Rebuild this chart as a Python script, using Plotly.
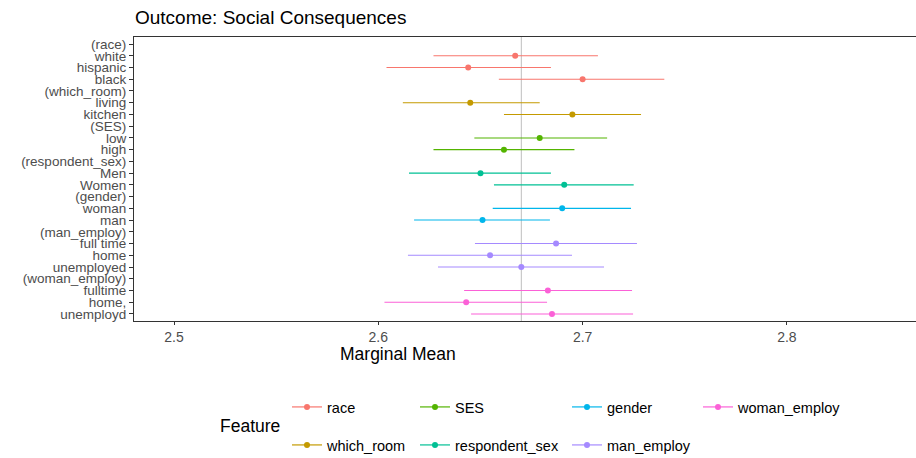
import plotly.graph_objects as go

# ---- data ----
row_labels = ["(race)", "white", "hispanic", "black",
              "(which_room)", "living", "kitchen",
              "(SES)", "low", "high",
              "(respondent_sex)", "Men", "Women",
              "(gender)", "woman", "man",
              "(man_employ)", "full time", "home", "unemployed",
              "(woman_employ)", "fulltime", "home,", "unemployd"]

features = ["race", "which_room", "SES", "respondent_sex", "gender", "man_employ", "woman_employ"]
feature_colors = ["#F8766D", "#C49A00", "#53B400", "#00C094", "#00B6EB", "#A58AFF", "#FB61D7"]

race_levels = ["white", "hispanic", "black"]
race_est = [2.667, 2.644, 2.700]
race_lo = [2.627, 2.604, 2.659]
race_hi = [2.7075, 2.6845, 2.740]

which_room_levels = ["living", "kitchen"]
which_room_est = [2.645, 2.695]
which_room_lo = [2.612, 2.6615]
which_room_hi = [2.679, 2.7286]

ses_levels = ["low", "high"]
ses_est = [2.679, 2.6615]
ses_lo = [2.647, 2.627]
ses_hi = [2.712, 2.696]

respondent_sex_levels = ["Men", "Women"]
respondent_sex_est = [2.650, 2.691]
respondent_sex_lo = [2.615, 2.6566]
respondent_sex_hi = [2.6845, 2.725]

gender_levels = ["woman", "man"]
gender_est = [2.690, 2.651]
gender_lo = [2.656, 2.6175]
gender_hi = [2.7237, 2.684]

man_employ_levels = ["full time", "home", "unemployed"]
man_employ_est = [2.687, 2.6547, 2.670]
man_employ_lo = [2.6473, 2.6145, 2.6292]
man_employ_hi = [2.7266, 2.6948, 2.7105]

woman_employ_levels = ["fulltime", "home,", "unemployd"]
woman_employ_est = [2.683, 2.643, 2.685]
woman_employ_lo = [2.642, 2.603, 2.6454]
woman_employ_hi = [2.7242, 2.6826, 2.7247]

ref_mean = 2.670
x_ticks = [2.5, 2.6, 2.7, 2.8]

series = {
    "race": (race_levels, race_est, race_lo, race_hi),
    "which_room": (which_room_levels, which_room_est, which_room_lo, which_room_hi),
    "SES": (ses_levels, ses_est, ses_lo, ses_hi),
    "respondent_sex": (respondent_sex_levels, respondent_sex_est, respondent_sex_lo, respondent_sex_hi),
    "gender": (gender_levels, gender_est, gender_lo, gender_hi),
    "man_employ": (man_employ_levels, man_employ_est, man_employ_lo, man_employ_hi),
    "woman_employ": (woman_employ_levels, woman_employ_est, woman_employ_lo, woman_employ_hi),
}

FONT = "Liberation Sans, Arial, sans-serif"
W, H = 916, 458
L, R, T, B = 134, 0, 37, 137

fig = go.Figure()

for feat, col in zip(features, feature_colors):
    lv, est, lo, hi = series[feat]
    ys = [row_labels.index(l) for l in lv]
    fig.add_trace(go.Scatter(
        x=est, y=ys, mode="markers",
        marker=dict(color=col, size=6),
        error_x=dict(type="data", symmetric=False,
                     array=[h - e for h, e in zip(hi, est)],
                     arrayminus=[e - l for e, l in zip(est, lo)],
                     color=col, thickness=1.1, width=0),
        showlegend=False, hoverinfo="x+y",
    ))

# legend layout (ggplot style: 2 rows, column-major)
legend_text_x = [327, 327, 455, 455, 607, 607, 738]
legend_row_y = [407, 445, 407, 445, 407, 445, 407]
layout_legends = {}
for i, (feat, col) in enumerate(zip(features, feature_colors)):
    key = "legend" if i == 0 else f"legend{i+1}"
    fig.add_trace(go.Scatter(
        x=[None], y=[None], mode="lines+markers", name=feat,
        line=dict(color=col, width=1.2), marker=dict(color=col, size=6),
        legend=key, showlegend=True,
    ))
    layout_legends[key] = dict(
        xref="container", yref="container",
        x=(legend_text_x[i] - 40) / W, y=1 - legend_row_y[i] / H,
        xanchor="left", yanchor="middle",
        bgcolor="rgba(0,0,0,0)", borderwidth=0,
        font=dict(family=FONT, size=14.5, color="#000000"),
        itemwidth=30,
    )

fig.add_shape(type="line", xref="x", yref="paper", x0=ref_mean, x1=ref_mean, y0=0, y1=1,
              line=dict(color="#BEBEBE", width=1), layer="below")

PW, PH = W - L - R, H - T - B
fig.add_annotation(text="Marginal Mean", xref="paper", yref="paper",
                   x=(398 - L) / PW, y=(H - B - 354) / PH,
                   xanchor="center", yanchor="middle", showarrow=False,
                   font=dict(family=FONT, size=17.5, color="#000000"))
fig.add_annotation(text="Feature", xref="paper", yref="paper",
                   x=(218 - L) / PW, y=(H - B - 426) / PH,
                   xanchor="left", yanchor="middle", showarrow=False,
                   font=dict(family=FONT, size=17.5, color="#000000"))

fig.update_layout(
    width=W, height=H,
    margin=dict(l=L, r=R, t=T, b=B, pad=0, autoexpand=False),
    paper_bgcolor="white", plot_bgcolor="white",
    font=dict(family=FONT),
    title=dict(text="Outcome: Social Consequences", xref="container", yref="container",
               x=135 / W, y=1 - 17 / H, xanchor="left", yanchor="middle",
               font=dict(family=FONT, size=19, color="#000000")),
    xaxis=dict(range=[2.4804, 2.8632], tickvals=x_ticks, ticktext=[str(v) for v in x_ticks],
               showgrid=False, zeroline=False, showline=True, linecolor="#333333", linewidth=1.2,
               mirror=True, ticks="outside", ticklen=3, tickcolor="#333333", tickwidth=1,
               tickfont=dict(family=FONT, size=14, color="#4D4D4D")),
    yaxis=dict(range=[len(row_labels) - 1 + 0.6, -0.6],
               tickvals=list(range(len(row_labels))), ticktext=row_labels,
               showgrid=False, zeroline=False, showline=True, linecolor="#333333", linewidth=1.2,
               ticks="outside", ticklen=4, tickcolor="#333333", tickwidth=1,
               tickfont=dict(family=FONT, size=13.5, color="#4D4D4D")),
    **layout_legends,
)

fig.write_html("out.html")
